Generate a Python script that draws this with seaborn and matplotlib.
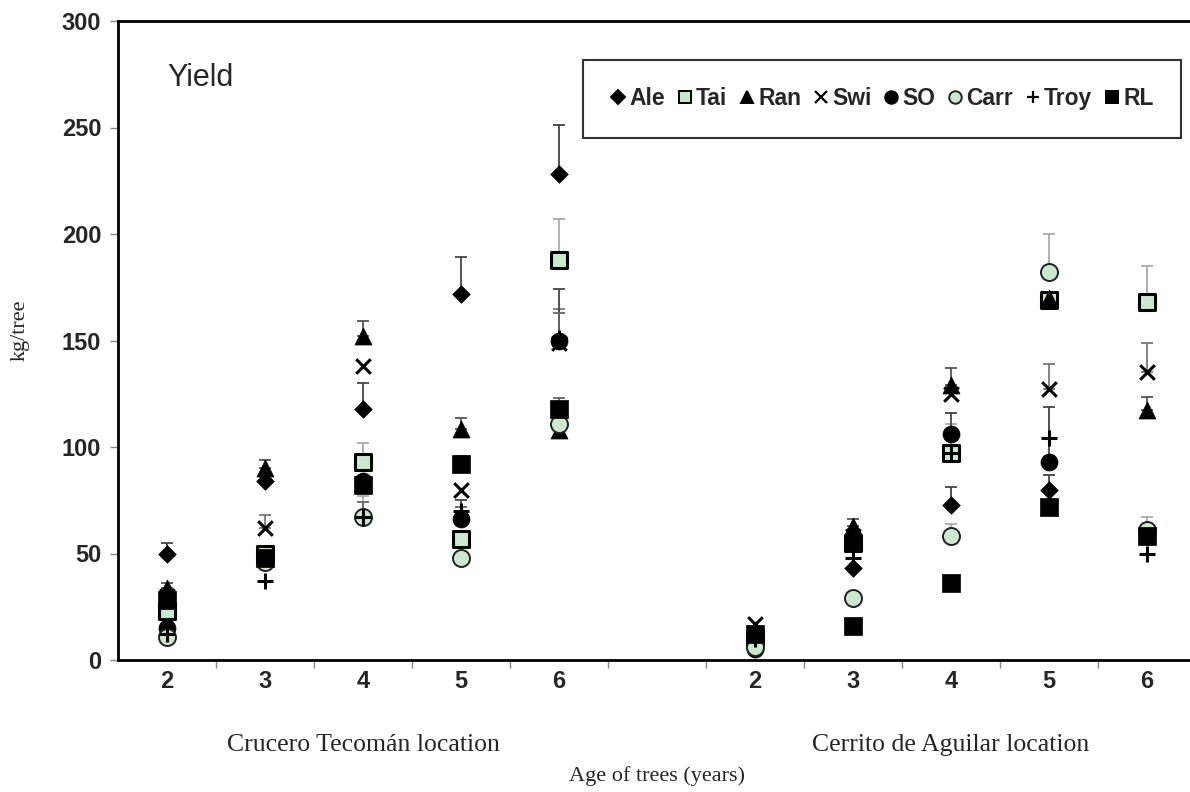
# yield per tree by cultivar, two locations
import matplotlib.pyplot as plt
import matplotlib.transforms as mtransforms
from matplotlib.lines import Line2D
import numpy as np
import pandas as pd
import seaborn as sns

# slot labels: ages at Crucero Tecoman, blank gap, ages at Cerrito de Aguilar
slot_labels = ["2", "3", "4", "5", "6", "", "2", "3", "4", "5", "6"]
slots = [0, 1, 2, 3, 4, 6, 7, 8, 9, 10]

cultivars = ["Ale", "Tai", "Ran", "Swi", "SO", "Carr", "Troy", "RL"]

# mean yield (kg/tree), one value per slot in `slots`
ale = [50, 84, 118, 172, 228, 8, 43, 73, 80, 58]
tai = [23, 50, 93, 57, 188, 10, 55, 97, 169, 168]
ran = [34, 90, 152, 108.5, 108, 14, 63, 129, 170, 117.5]
swi = [30, 62, 138, 80, 149, 17, 58, 125, 127, 135]
so = [15, 48, 84, 66, 150, 5, 55, 106, 93, 58]
carr = [11, 46, 67, 48, 111, 6, 29, 58, 182, 61]
troy = [12, 37, 67, 70, 151, 10, 48, 97, 104, 50]
rl = [28, 48, 82, 92, 118, 12, 16, 36, 72, 58]

# upper error (kg/tree)
ale_err = [5, 0, 12, 17, 23, 0, 0, 8, 7, 0]
tai_err = [0, 0, 9, 0, 19, 0, 0, 14, 0, 17]
ran_err = [2, 4, 7, 5, 0, 0, 3, 8, 0, 6]
swi_err = [0, 6, 0, 0, 16, 0, 0, 0, 12, 14]
so_err = [0, 0, 0, 9, 24, 0, 0, 10, 26, 0]
carr_err = [0, 0, 10, 0, 0, 0, 0, 6, 18, 6]
troy_err = [0, 0, 7, 2, 12, 0, 0, 0, 0, 0]
rl_err = [0, 0, 0, 4, 5, 0, 0, 0, 0, 0]

means = [ale, tai, ran, swi, so, carr, troy, rl]
errs = [ale_err, tai_err, ran_err, swi_err, so_err, carr_err, troy_err, rl_err]

green = "#cce8d0"
styles = {
    "Ale": dict(marker="D", s=80, color="black", edgecolor="black", linewidth=0.5),
    "Tai": dict(marker="s", s=120, color=green, edgecolor="black", linewidth=2.2),
    "Ran": dict(marker="^", s=150, color="black", edgecolor="black", linewidth=0.5),
    "Swi": dict(marker="x", s=110, color="black", linewidth=2.2),
    "SO": dict(marker="o", s=150, color="black", edgecolor="black", linewidth=0.5),
    "Carr": dict(marker="o", s=150, color=green, edgecolor="#222222", linewidth=1.4),
    "Troy": dict(marker="+", s=130, color="black", linewidth=2.2),
    "RL": dict(marker="s", s=150, color="black", edgecolor="black", linewidth=0.5),
}
err_colors = {"Ale": "#444444", "Tai": "#aaaaaa", "Ran": "#555555", "Swi": "#777777",
              "SO": "#444444", "Carr": "#aaaaaa", "Troy": "#666666", "RL": "#666666"}

rows = []
for name, m, e in zip(cultivars, means, errs):
    for x, v, ev in zip(slots, m, e):
        rows.append({"cultivar": name, "slot": x, "kg": v, "err": ev})
df = pd.DataFrame(rows)

sns.set_theme(style="white")
plt.rcParams["font.family"] = ["Liberation Sans", "DejaVu Sans"]

fig = plt.figure(figsize=(11.9, 7.92), dpi=100)
ax = fig.add_axes([118 / 1190, 1 - 660 / 792, 1078 / 1190, 639 / 792])

# error bars (upper only) under the markers
for name in cultivars:
    d = df[(df.cultivar == name) & (df.err > 0)]
    if len(d):
        ax.errorbar(d.slot, d.kg, yerr=[np.zeros(len(d)), d.err], fmt="none",
                    ecolor=err_colors[name], elinewidth=1.3, capsize=4.3,
                    capthick=1.3, zorder=1)

for i, name in enumerate(cultivars):
    d = df[df.cultivar == name]
    sns.scatterplot(data=d, x="slot", y="kg", ax=ax, legend=False,
                    zorder=2 + i, **styles[name])

ax.set_xlim(-0.5, 10.5)
ax.set_ylim(0, 300)
ax.set_yticks(np.arange(0, 301, 50))
ax.set_xticks(range(len(slot_labels)))
ax.set_xticklabels(slot_labels)
ax.set_xticks(np.arange(0.5, 10.5, 1), minor=True)
ax.tick_params(axis="x", which="major", length=0, pad=7, labelsize=17)
ax.tick_params(axis="x", which="minor", length=6, width=1, color="#888888",
               direction="out", bottom=True)
ax.tick_params(axis="y", length=6, width=1, color="#888888", direction="out",
               left=True, pad=6, labelsize=17)
for lab in ax.get_xticklabels() + ax.get_yticklabels():
    lab.set_fontweight("bold")
for side in ["left", "bottom", "top"]:
    ax.spines[side].set_color("black")
    ax.spines[side].set_linewidth(2)
ax.spines["right"].set_visible(False)
ax.set_xlabel("")
ax.set_ylabel("")

ax.text(0.046, 0.911, "Yield", transform=ax.transAxes, fontsize=22,
        ha="left", va="center")

trans = mtransforms.blended_transform_factory(ax.transData, ax.transAxes)
serif = ["Liberation Serif", "DejaVu Serif"]
ax.text(2, -0.133, "Crucero Tecomán location", transform=trans, ha="center",
        va="center", fontsize=18.5, family=serif)
ax.text(8, -0.133, "Cerrito de Aguilar location", transform=trans, ha="center",
        va="center", fontsize=18.5, family=serif)
ax.text(5, -0.182, "Age of trees (years)", transform=trans, ha="center",
        va="center", fontsize=16, family=serif)
fig.text(20 / 1190, 1 - 330 / 792, "kg/tree", rotation=90, ha="center",
         va="center", fontsize=16, family=serif)

handles = []
for name in cultivars:
    st = styles[name]
    filled = st["marker"] not in ("x", "+")
    handles.append(Line2D([], [], linestyle="none", marker=st["marker"],
                          markersize=9 if st["marker"] != "D" else 7.5,
                          markerfacecolor=st["color"] if filled else "none",
                          markeredgecolor=st.get("edgecolor", "black"),
                          markeredgewidth=1.4 if filled else 1.6,
                          color="black", label=name))
leg = ax.legend(handles=handles, ncol=8, loc="upper left",
                bbox_to_anchor=(0.431, 0.939), borderaxespad=0, frameon=True,
                fancybox=False, borderpad=1.2, handlelength=0.7,
                handletextpad=0.15, columnspacing=0.5,
                prop={"weight": "bold", "size": 16.5})
leg.get_frame().set_edgecolor("black")
leg.get_frame().set_linewidth(1.5)

fig.savefig("out.png", dpi=100)
plt.close(fig)
